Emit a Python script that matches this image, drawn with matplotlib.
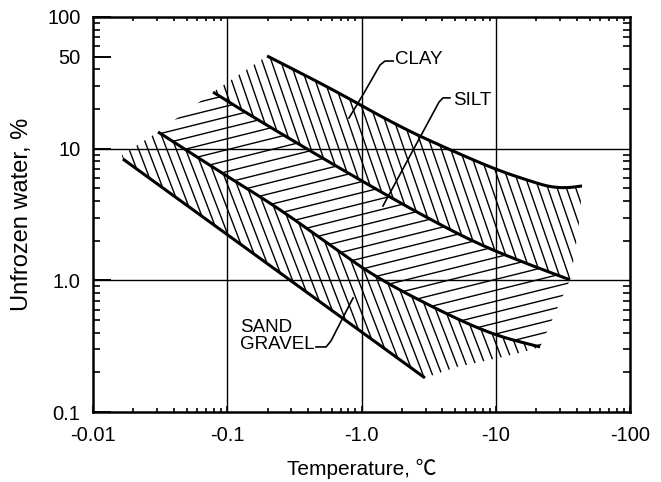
import numpy as np
import matplotlib
matplotlib.use('Agg')
import matplotlib.pyplot as plt
from matplotlib.patches import Polygon
from matplotlib.ticker import FixedLocator, LogLocator, NullFormatter

plt.rcParams['font.family'] = ['Liberation Sans', 'Noto Sans CJK JP']

# band boundaries: temperature (deg C) and unfrozen water (%)
clay_top_T = [-0.198, -0.582, -1.94, -4.56, -10.2, -18.9, -25.4, -34.0, -43.9]
clay_top_w = [50.6, 28.9, 14.6, 9.8, 6.89, 5.59, 5.12, 5.03, 5.21]
clay_end_T = [-42.4, -39.6, -36.5]
clay_end_w = [3.14, 1.86, 1.10]

silt_top_T = [-0.0784, -0.1475, -0.348, -0.975, -3.08, -7.63, -18.0, -35.7]
silt_top_w = [26.9, 18.0, 10.7, 5.78, 2.98, 1.86, 1.31, 1.01]
silt_bot_T = [-0.0305, -0.1014, -0.227, -0.582, -1.30, -4.56, -10.2, -21.4]
silt_bot_w = [13.4, 6.10, 3.67, 1.86, 1.04, 0.537, 0.378, 0.312]

sand_bot_T = [-0.0167, -2.97]
sand_bot_w = [8.35, 0.1815]
sand_tip_T = [-0.0164]
sand_tip_w = [8.96]
sand_end_T = [-15.2, -9.06, -5.14]
sand_end_w = [0.281, 0.249, 0.220]

x_ticks = [0.01, 0.1, 1, 10, 100]
x_labels = ['-0.01', '-0.1', '-1.0', '-10', '-100']
y_ticks = [0.1, 1, 10, 50, 100]
y_labels = ['0.1', '1.0', '10', '50', '100']


def smooth(T, w, n=3):
    # corner cutting in log-log space, end points kept
    p = np.column_stack([np.log10(-np.asarray(T, float)), np.log10(w)])
    for _ in range(n):
        if len(p) < 3:
            break
        q = 0.75 * p[:-1] + 0.25 * p[1:]
        r = 0.25 * p[:-1] + 0.75 * p[1:]
        mid = np.empty((2 * len(q), 2))
        mid[0::2] = q
        mid[1::2] = r
        p = np.vstack([p[:1], mid[1:-1], p[-1:]])
    return 10 ** p[:, 0], 10 ** p[:, 1]


def hatch(ax, x, y, angle, gap, W, H, lw=1.0):
    poly = Polygon(np.column_stack([x, y]), closed=True,
                   facecolor='none', edgecolor='none')
    ax.add_patch(poly)
    a = np.radians(angle)
    d = np.array([np.cos(a), np.sin(a)])
    nrm = np.array([-np.sin(a), np.cos(a)])
    L = np.hypot(W, H)
    n = int(L / gap) + 2
    for k in range(-n, n + 1):
        c = np.array([W / 2, H / 2]) + k * gap * nrm
        p0, p1 = c - L * d, c + L * d
        ln, = ax.plot([p0[0] / W, p1[0] / W], [p0[1] / H, p1[1] / H],
                      transform=ax.transAxes, color='k', lw=lw,
                      solid_capstyle='butt', scalex=False, scaley=False)
        ln.set_clip_path(poly)


fig = plt.figure(figsize=(6.61, 4.82), dpi=100)
left, bottom, width, height = 93 / 661, 70 / 482, 537 / 661, 395 / 482
ax = fig.add_axes([left, bottom, width, height])
W, H = 537, 395
ax.set_xscale('log')
ax.set_yscale('log')
ax.set_xlim(0.01, 100)
ax.set_ylim(0.1, 100)

cx, cy = smooth(clay_top_T, clay_top_w)
sx, sy = smooth(silt_top_T, silt_top_w)
bx, by = smooth(silt_bot_T, silt_bot_w)
gx, gy = -np.array(sand_bot_T), np.array(sand_bot_w)

clay_x = np.concatenate([cx, -np.array(clay_end_T), sx[::-1]])
clay_y = np.concatenate([cy, clay_end_w, sy[::-1]])
silt_x = np.concatenate([sx, bx[::-1]])
silt_y = np.concatenate([sy, by[::-1]])
sand_x = np.concatenate([-np.array(sand_tip_T), bx, -np.array(sand_end_T), gx[::-1]])
sand_y = np.concatenate([sand_tip_w, by, sand_end_w, gy[::-1]])

hatch(ax, clay_x, clay_y, -71, 8.8, W, H)
hatch(ax, sand_x, sand_y, -69, 8.8, W, H)
hatch(ax, silt_x, silt_y, 14, 10.6, W, H)

for xx, yy in [(cx, cy), (sx, sy), (bx, by), (gx, gy)]:
    ax.plot(xx, yy, color='k', lw=2.2, solid_capstyle='butt')

# decade grid
for v in [0.1, 1, 10]:
    ax.axvline(v, color='k', lw=1.0)
for v in [1, 10]:
    ax.axhline(v, color='k', lw=1.0)

# labels with leaders
ax.text(1.78, 47.2, 'CLAY', fontsize=13.5, va='center', ha='left')
ax.plot([1.72, 1.496, 1.374, 1.044, 0.807], [46.3, 46.3, 43.2, 26.5, 17.1],
        color='k', lw=1.2)
ax.text(4.81, 23.4, 'SILT', fontsize=13.5, va='center', ha='left')
ax.plot([4.56, 4.05, 3.78, 1.445], [24.3, 24.3, 22.6, 3.67], color='k', lw=1.2)
ax.text(0.1245, 0.378, 'SAND\nGRAVEL', fontsize=13.5, va='center', ha='left',
        linespacing=0.95)
ax.plot([0.458, 0.545, 0.593, 0.865], [0.312, 0.312, 0.347, 0.735],
        color='k', lw=1.2)

ax.xaxis.set_major_locator(FixedLocator(x_ticks))
ax.set_xticklabels(x_labels)
ax.yaxis.set_major_locator(FixedLocator(y_ticks))
ax.set_yticklabels(y_labels)
ax.xaxis.set_minor_locator(LogLocator(base=10, subs=np.arange(2, 10)))
ax.yaxis.set_minor_locator(LogLocator(base=10, subs=np.arange(2, 10)))
ax.xaxis.set_minor_formatter(NullFormatter())
ax.yaxis.set_minor_formatter(NullFormatter())

ax.tick_params(which='both', direction='in', labelsize=14.5)
ax.tick_params(which='minor', top=True, right=True)
ax.tick_params(axis='x', which='major', length=4, width=1.2, pad=10)
ax.tick_params(axis='x', which='minor', length=3, width=1.2)
ax.tick_params(axis='y', which='major', length=13, width=1.4, pad=9)
ax.tick_params(axis='y', which='minor', length=5, width=1.2)

for s in ax.spines.values():
    s.set_linewidth(1.8)

ax.set_xlabel('Temperature, ℃', fontsize=15)
ax.xaxis.set_label_coords(0.5, -0.118)
ax.set_ylabel('Unfrozen water, %', fontsize=17)
ax.yaxis.set_label_coords(-0.112, 0.5)

fig.savefig('out.png', dpi=100)
